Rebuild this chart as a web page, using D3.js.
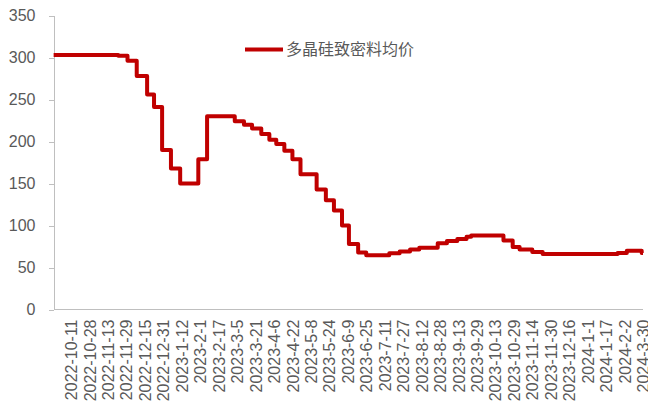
<!DOCTYPE html>
<html>
<head>
<meta charset="utf-8">
<script src="https://cdn.jsdelivr.net/npm/d3@7/dist/d3.min.js"></script>
<style>
  body { margin: 0; background: #fff; }
  .axis text { font-family: "Liberation Sans", Arial, sans-serif; font-size: 16px; fill: #595959; }
  .axis line, .axis path, .axis-line { stroke: #bfbfbf; stroke-width: 1; shape-rendering: crispEdges; }
  .legend text { font-family: "Noto Sans CJK SC", sans-serif; font-size: 16px; fill: #595959; }
</style>
</head>
<body>
<div id="chart"></div>
<script>
'use strict';

// tick labels on the category axis
var TICK_LABELS = [
  '2022-10-11', '2022-10-28', '2022-11-13', '2022-11-29', '2022-12-15',
  '2022-12-31', '2023-1-12', '2023-2-1', '2023-2-17', '2023-3-5',
  '2023-3-21', '2023-4-6', '2023-4-22', '2023-5-8', '2023-5-24',
  '2023-6-9', '2023-6-25', '2023-7-11', '2023-7-27', '2023-8-12',
  '2023-8-28', '2023-9-13', '2023-9-29', '2023-10-13', '2023-10-29',
  '2023-11-14', '2023-11-30', '2023-12-16', '2024-1-1', '2024-1-17',
  '2024-2-2', '2024-3-30'
];

var Y_TICKS = [0, 50, 100, 150, 200, 250, 300, 350];

// dates on which the price changed
var PRICE_DATES = [
  '2022-9-25', '2022-11-22', '2022-11-30', '2022-12-8', '2022-12-17',
  '2022-12-23', '2022-12-30', '2023-1-5', '2023-1-11', '2023-1-30',
  '2023-2-7', '2023-3-3', '2023-3-11', '2023-3-18', '2023-3-26',
  '2023-4-2', '2023-4-8', '2023-4-15', '2023-4-22', '2023-4-29',
  '2023-5-13', '2023-5-21', '2023-5-28', '2023-6-4', '2023-6-10',
  '2023-6-18', '2023-6-25', '2023-7-15', '2023-7-24', '2023-8-2',
  '2023-8-10', '2023-8-26', '2023-9-3', '2023-9-12', '2023-9-20',
  '2023-9-24', '2023-10-20', '2023-10-28', '2023-11-3', '2023-11-14',
  '2023-11-23', '2024-1-27', '2024-2-9', '2024-3-26', '2024-3-30'
];

var PRICE_VALUES = [
  303, 302, 296, 278, 256,
  241, 190, 168, 150, 179,
  230, 224, 220, 215.5, 209,
  202, 197, 189, 179, 161,
  143, 130, 118, 100, 78,
  68, 64.5, 67, 69, 71.5,
  73.5, 79, 81.5, 84, 86.7,
  88, 82, 74.5, 71.5, 68.5,
  66, 67.4, 69.8, 67.4, 67.4
];

var SERIES_NAME = '多晶硅致密料均价';


var WIDTH = 648,
    HEIGHT = 410,
    PLOT_LEFT = 53.5,
    PLOT_RIGHT = 643,
    PLOT_TOP = 15.5,
    PLOT_BOTTOM = 309.5,
    FIRST_LABEL_X = 71;

var parseDate = d3.timeParse('%Y-%m-%d');

var svg,
    labelDates,
    labelPos,
    line,
    x,
    y,
    legend,
    points;

svg = d3.select('#chart').append('svg')
    .attr('width', WIDTH)
    .attr('height', HEIGHT)
    .attr('viewBox', '0 0 ' + WIDTH + ' ' + HEIGHT);

// labels sit evenly spaced, so map the uneven dates piecewise onto them
labelPos = d3.scalePoint()
    .domain(TICK_LABELS)
    .range([FIRST_LABEL_X, PLOT_RIGHT]);
labelDates = TICK_LABELS.map(parseDate);

x = d3.scaleTime()
    .domain(labelDates)
    .range(TICK_LABELS.map(function (d) { return labelPos(d); }));

y = d3.scaleLinear()
    .domain([0, 350])
    .range([PLOT_BOTTOM, PLOT_TOP]);

// y axis
svg.append('g')
    .attr('class', 'axis y-axis')
    .attr('transform', 'translate(' + PLOT_LEFT + ',0)')
    .call(d3.axisLeft(y)
        .tickValues(Y_TICKS)
        .tickSize(5)
        .tickSizeOuter(0)
        .tickPadding(13));

// x axis, labels rotated
svg.append('g')
    .attr('class', 'axis x-axis')
    .attr('transform', 'translate(0,' + PLOT_BOTTOM + ')')
    .call(d3.axisBottom(x)
        .tickValues(labelDates)
        .tickSize(0)
        .tickFormat(function (d, i) { return TICK_LABELS[i]; }))
    .call(function (g) {
      g.select('.domain').remove();
      g.selectAll('text')
          .attr('transform', 'rotate(-90)')
          .attr('x', -10)
          .attr('y', 0)
          .attr('dy', '0.35em')
          .style('text-anchor', 'end');
    });

svg.append('line')
    .attr('class', 'axis-line')
    .attr('x1', PLOT_LEFT)
    .attr('x2', PLOT_RIGHT)
    .attr('y1', PLOT_BOTTOM)
    .attr('y2', PLOT_BOTTOM);

// price series as steps
points = PRICE_DATES.map(function (d, i) {
  return {date: parseDate(d), value: PRICE_VALUES[i]};
});

line = d3.line()
    .curve(d3.curveStepAfter)
    .x(function (d) { return x(d.date); })
    .y(function (d) { return y(d.value); });

svg.append('path')
    .datum(points)
    .attr('fill', 'none')
    .attr('stroke', '#c00000')
    .attr('stroke-width', 4)
    .attr('stroke-linejoin', 'round')
    .attr('d', line);

// legend
legend = svg.append('g')
    .attr('class', 'legend')
    .attr('transform', 'translate(245,49.5)');
legend.append('line')
    .attr('x1', 0)
    .attr('x2', 38)
    .attr('stroke', '#c00000')
    .attr('stroke-width', 4);
legend.append('text')
    .attr('x', 41)
    .attr('dy', '0.35em')
    .text(SERIES_NAME);
</script>
</body>
</html>
